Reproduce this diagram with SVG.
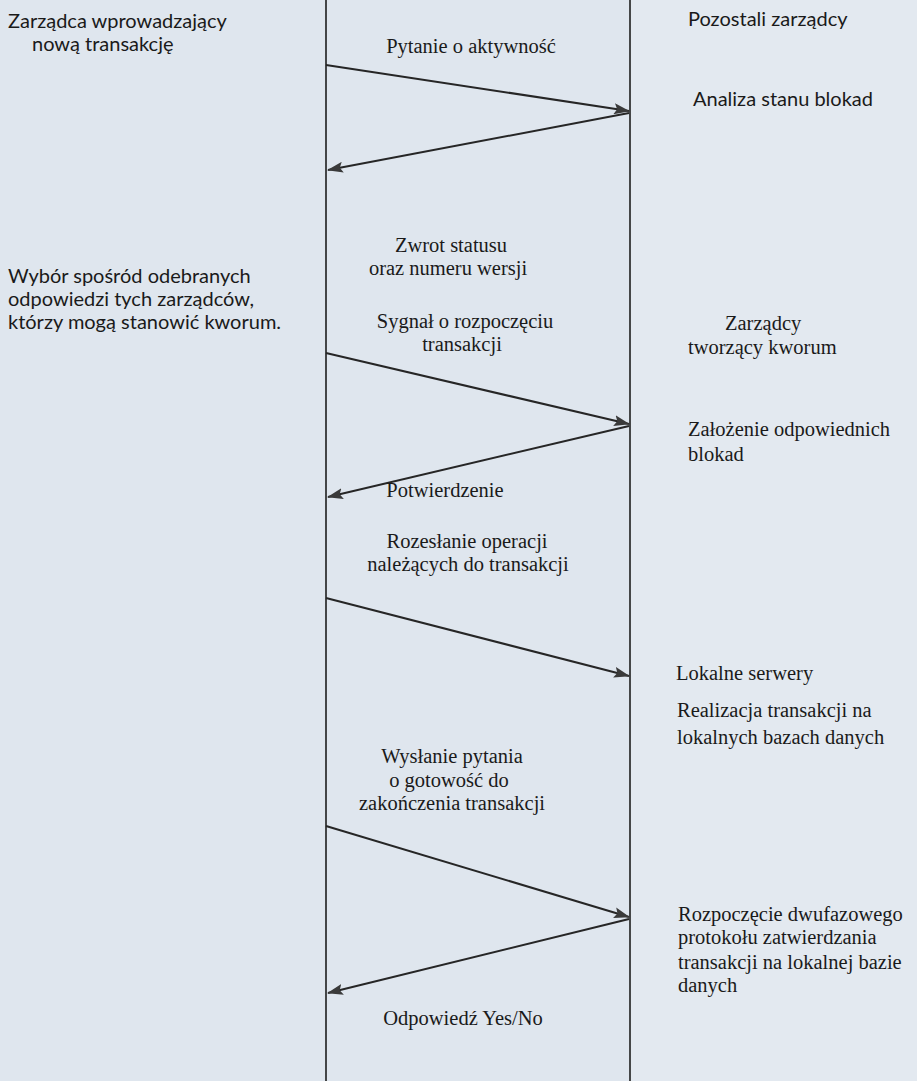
<svg xmlns="http://www.w3.org/2000/svg" width="917" height="1081" viewBox="0 0 917 1081">
<style>
.t{font-family:"Liberation Serif","Times New Roman",serif;font-size:20.5px;fill:#1a1a1a}
.h{font-family:Lato,"Open Sans",sans-serif;font-size:20px;fill:#1a1a1a}
.c{text-anchor:middle}
.life{stroke:#2a2a2a;stroke-width:1.7;fill:none}
.msg{stroke:#262626;stroke-width:2;fill:none}
</style>
<defs>
<marker id="ah" viewBox="0 0 16 11" refX="15" refY="5.5" markerWidth="16" markerHeight="11" markerUnits="userSpaceOnUse" orient="auto">
<path d="M0,0 L16,5.5 L0,11 L3,5.5 Z" fill="#3a3a3a"/>
</marker>
</defs>
<rect width="917" height="1081" fill="#dfe6ee"/>
<rect x="630" width="287" height="1081" fill="#e3e9f0"/>

<g id="lifelines">
<line class="life" x1="326" y1="0" x2="326" y2="1081"/>
<line class="life" x1="630" y1="0" x2="630" y2="1081"/>
</g>

<g id="connectors">
<line class="msg" x1="326" y1="65" x2="629" y2="111" marker-end="url(#ah)"/>
<line class="msg" x1="629" y1="113" x2="328" y2="170" marker-end="url(#ah)"/>
<line class="msg" x1="326" y1="353" x2="629" y2="424" marker-end="url(#ah)"/>
<line class="msg" x1="629" y1="426" x2="328" y2="497" marker-end="url(#ah)"/>
<line class="msg" x1="326" y1="598" x2="629" y2="676" marker-end="url(#ah)"/>
<line class="msg" x1="326" y1="826" x2="629" y2="917" marker-end="url(#ah)"/>
<line class="msg" x1="629" y1="919" x2="328" y2="993" marker-end="url(#ah)"/>
</g>

<g id="initiator">
<text class="h" x="8" y="28">Zarządca wprowadzający</text>
<text class="h" x="32" y="51">nową transakcję</text>
</g>
<g id="others">
<text class="h" x="688" y="26">Pozostali zarządcy</text>
</g>
<g id="analysis">
<text class="h" x="693" y="106">Analiza stanu blokad</text>
</g>
<g id="choice">
<text class="h" x="8" y="283">Wybór spośród odebranych</text>
<text class="h" x="8" y="306">odpowiedzi tych zarządców,</text>
<text class="h" x="8" y="329">którzy mogą stanowić kworum.</text>
</g>
<g id="quorum">
<text class="t" x="725" y="330">Zarządcy</text>
<text class="t" x="688" y="354">tworzący kworum</text>
</g>
<g id="locks">
<text class="t" x="688" y="436">Założenie odpowiednich</text>
<text class="t" x="688" y="461">blokad</text>
</g>
<g id="servers">
<text class="t" x="676" y="680">Lokalne serwery</text>
</g>
<g id="realization">
<text class="t" x="677" y="717">Realizacja transakcji na</text>
<text class="t" x="677" y="744">lokalnych bazach danych</text>
</g>
<g id="twophase">
<text class="t" x="678" y="921">Rozpoczęcie dwufazowego</text>
<text class="t" x="678" y="944">protokołu zatwierdzania</text>
<text class="t" x="678" y="969">transakcji na lokalnej bazie</text>
<text class="t" x="678" y="992">danych</text>
</g>

<g id="labels">
<text class="t c" x="471" y="53">Pytanie o aktywność</text>
<text class="t c" x="451" y="252">Zwrot statusu</text>
<text class="t c" x="448" y="275">oraz numeru wersji</text>
<text class="t c" x="465" y="328">Sygnał o rozpoczęciu</text>
<text class="t c" x="462" y="351">transakcji</text>
<text class="t c" x="445" y="497">Potwierdzenie</text>
<text class="t c" x="467" y="548">Rozesłanie operacji</text>
<text class="t c" x="468" y="571">należących do transakcji</text>
<text class="t c" x="452" y="763">Wysłanie pytania</text>
<text class="t c" x="449" y="787">o gotowość do</text>
<text class="t c" x="452" y="810">zakończenia transakcji</text>
<text class="t c" x="463" y="1025">Odpowiedź Yes/No</text>
</g>
</svg>
